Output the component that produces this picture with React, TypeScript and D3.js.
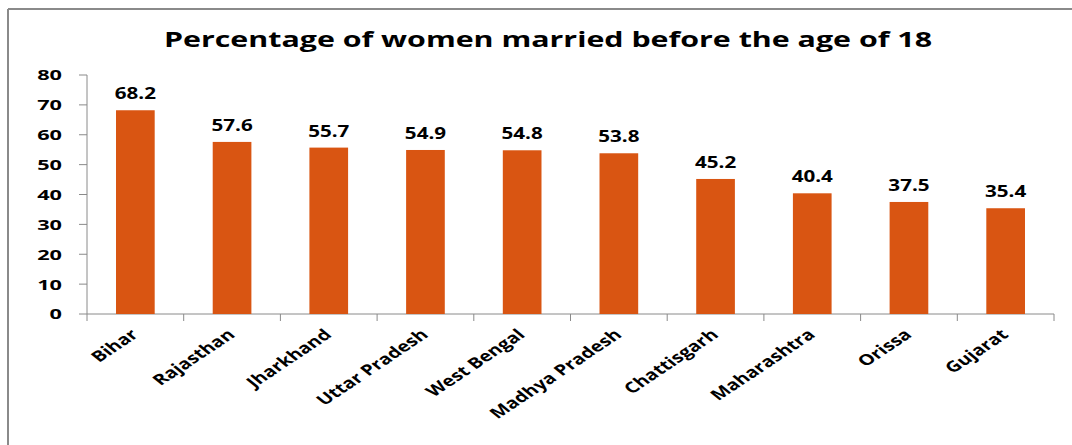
import React from 'react'
import * as d3 from 'd3'

const states = ['Bihar', 'Rajasthan', 'Jharkhand', 'Uttar Pradesh', 'West Bengal', 'Madhya Pradesh', 'Chattisgarh', 'Maharashtra', 'Orissa', 'Gujarat']
const percentages = [68.2, 57.6, 55.7, 54.9, 54.8, 53.8, 45.2, 40.4, 37.5, 35.4]
const yTicks = [0, 10, 20, 30, 40, 50, 60, 70, 80]
const title = 'Percentage of women married before the age of 18'

const W = 1072
const H = 445
const margin = { top: 75, right: 18, bottom: 131, left: 87 }
const font = '"Open Sans", "Liberation Sans", sans-serif'
// the picture is a bit stretched sideways, so text is widened to match
const stretch = 1.35

export default function App() {
  const x = d3.scaleBand<string>()
    .domain(states)
    .range([margin.left, W - margin.right])
    .paddingInner(0.6)
    .paddingOuter(0.3)

  const y = d3.scaleLinear()
    .domain([0, 80])
    .range([H - margin.bottom, margin.top])

  const x0 = margin.left
  const bandEdges = d3.range(states.length + 1).map(i => x0 + i * ((W - margin.right - x0) / states.length))
  const baseY = y(0)

  return (
    <svg width={W} height={H} style={{ position: 'absolute', left: 0, top: 0 }}>
      <rect x={0} y={0} width={W} height={H} fill="#fff" />
      {/* frame */}
      <line x1={8} y1={9} x2={W} y2={9} stroke="#8a8a8a" strokeWidth={2} />
      <line x1={8} y1={9} x2={8} y2={H} stroke="#8a8a8a" strokeWidth={2} />

      <text transform={`translate(548,47) scale(1.38,1)`} textAnchor="middle" fontFamily={font} fontWeight="bold" fontSize={22} fill="#000">{title}</text>

      {/* y axis */}
      <line x1={margin.left} x2={margin.left} y1={y(80)} y2={baseY} stroke="#8a8a8a" />
      {yTicks.map(t => (
        <g key={t}>
          <line x1={margin.left - 8} x2={margin.left} y1={y(t)} y2={y(t)} stroke="#8a8a8a" />
          <text transform={`translate(62,${y(t)}) scale(1.45,1)`} dy="0.36em" textAnchor="end" fontFamily={font} fontWeight="bold" fontSize={15} fill="#000">{t}</text>
        </g>
      ))}

      {/* x axis */}
      <line x1={margin.left} x2={W - margin.right} y1={baseY} y2={baseY} stroke="#8a8a8a" />
      {bandEdges.map((bx, i) => (
        <line key={i} x1={bx} x2={bx} y1={baseY} y2={baseY + 7} stroke="#8a8a8a" />
      ))}

      {states.map((s, i) => {
        const bx = x(s) as number
        const cx = bx + x.bandwidth() / 2
        return (
          <g key={s}>
            <rect x={bx} y={y(percentages[i])} width={x.bandwidth()} height={baseY - y(percentages[i])} fill="#D95512" />
            <text transform={`translate(${cx},${y(percentages[i]) - 11}) scale(1.25,1)`} textAnchor="middle" fontFamily={font} fontWeight="bold" fontSize={16.5} fill="#000">{percentages[i]}</text>
            <text transform={`translate(${cx + 4},${baseY + 22}) scale(${stretch},1) rotate(-42)`} textAnchor="end" fontFamily={font} fontWeight="bold" fontSize={15} fill="#000">{s}</text>
          </g>
        )
      })}
    </svg>
  )
}
